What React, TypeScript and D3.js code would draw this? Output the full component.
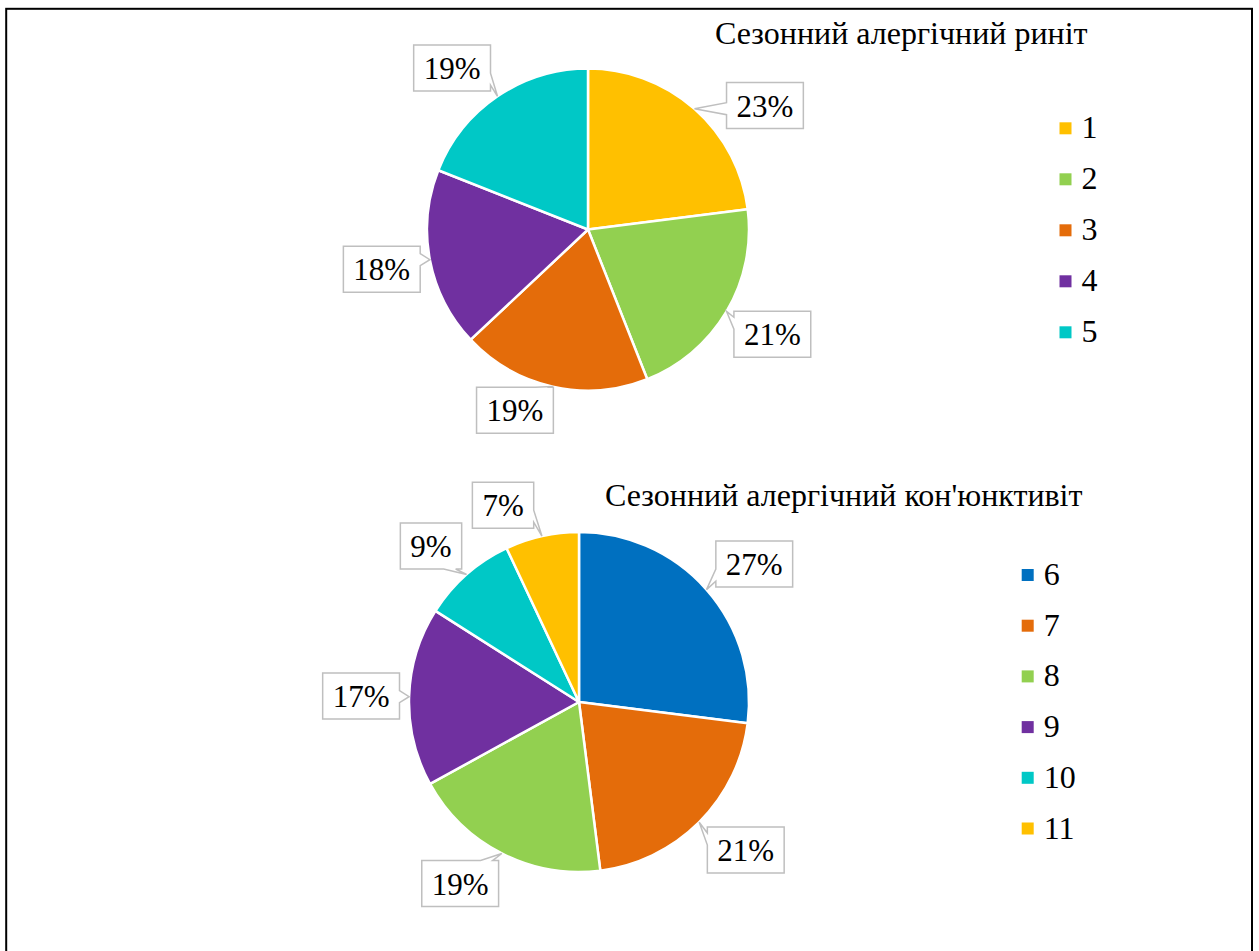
import React from 'react';
import * as d3 from 'd3';

// Series: seasonal allergic rhinitis
const rhinitisTitle = 'Сезонний алергічний риніт';
const rhinitisCategories = ['1', '2', '3', '4', '5'];
const rhinitisValues = [23, 21, 19, 18, 19];

// Series: seasonal allergic conjunctivitis
const conjTitle = "Сезонний алергічний кон'юнктивіт";
const conjCategories = ['6', '7', '8', '9', '10', '11'];
const conjValues = [27, 21, 19, 17, 9, 7];

// Styling
const rhinitisColors = ['#FFC000', '#92D050', '#E46C0A', '#7030A0', '#00C8C6'];
const conjColors = ['#0070C0', '#E46C0A', '#92D050', '#7030A0', '#00C8C6', '#FFC000'];

// Callout placement: angular shift (deg) from slice middle and distance from centre
const rhinitisLabelShift = [13.6, -1, 9.4, -0.1, -5.9];
const rhinitisLabelDist = [216, 212, 195, 210, 211];
const conjLabelShift = [3.2, -3.4, 6.2, -0.2, -2.1, -8.5];
const conjLabelDist = [223, 223, 217, 218, 215, 211];

const FONT = 'Liberation Serif, Times New Roman, serif';
const TITLE_FS = 32;
const LABEL_FS = 31;
const LEGEND_FS = 32;

function textWidth(s: string, fs: number) {
  let w = 0;
  for (const ch of s) w += ch === '%' ? 0.833 * fs : 0.5 * fs;
  return w;
}

function calloutPath(x0: number, y0: number, x1: number, y1: number, tx: number, ty: number) {
  const ox = tx < x0 ? x0 - tx : tx > x1 ? tx - x1 : 0;
  const oy = ty < y0 ? y0 - ty : ty > y1 ? ty - y1 : 0;
  const half = 6;
  const clamp = (v: number, a: number, b: number) => Math.max(a, Math.min(b, v));
  let side = 'none';
  let c = 0;
  if (ox > 0 || oy > 0) {
    if (ox >= oy) {
      side = tx < x0 ? 'left' : 'right';
      c = clamp(ty, y0 + 12, y1 - 12);
    } else {
      side = ty < y0 ? 'top' : 'bottom';
      c = clamp(tx, x0 + 12, x1 - 12);
    }
  }
  const p = d3.path();
  p.moveTo(x0, y0);
  if (side === 'top') {
    p.lineTo(c - half, y0);
    p.lineTo(tx, ty);
    p.lineTo(c + half, y0);
  }
  p.lineTo(x1, y0);
  if (side === 'right') {
    p.lineTo(x1, c - half);
    p.lineTo(tx, ty);
    p.lineTo(x1, c + half);
  }
  p.lineTo(x1, y1);
  if (side === 'bottom') {
    p.lineTo(c + half, y1);
    p.lineTo(tx, ty);
    p.lineTo(c - half, y1);
  }
  p.lineTo(x0, y1);
  if (side === 'left') {
    p.lineTo(x0, c + half);
    p.lineTo(tx, ty);
    p.lineTo(x0, c - half);
  }
  p.closePath();
  return p.toString();
}

type PieProps = {
  cx: number;
  cy: number;
  r: number;
  categories: string[];
  values: number[];
  colors: string[];
  labelShift: number[];
  labelDist: number[];
  title: string;
  titleX: number;
  titleY: number;
  legendX: number;
  legendY: number;
  legendStep: number;
};

function PieChart(props: PieProps) {
  const { cx, cy, r, categories, values, colors, labelShift, labelDist } = props;
  const total = d3.sum(values);
  const arcs = d3.pie<number>().sort(null).value((d) => d)(values);
  const arcGen = d3.arc<d3.PieArcDatum<number>>().innerRadius(0).outerRadius(r);
  const color = d3.scaleOrdinal<string, string>().domain(categories).range(colors);

  return (
    <g>
      <text x={props.titleX} y={props.titleY} style={{ fontFamily: FONT, fontSize: TITLE_FS }} fill="#000">
        {props.title}
      </text>
      <g transform={`translate(${cx},${cy})`}>
        {arcs.map((a, i) => (
          <path
            key={i}
            d={arcGen(a) || ''}
            fill={color(categories[i])}
            stroke="#fff"
            strokeWidth={2.5}
            strokeLinejoin="round"
          />
        ))}
      </g>
      {arcs.map((a, i) => {
        const mid = (a.startAngle + a.endAngle) / 2;
        const tx = cx + r * Math.sin(mid);
        const ty = cy - r * Math.cos(mid);
        const la = mid + (labelShift[i] * Math.PI) / 180;
        const bx = cx + labelDist[i] * Math.sin(la);
        const by = cy - labelDist[i] * Math.cos(la);
        const label = `${Math.round((values[i] / total) * 100)}%`;
        const w = textWidth(label, LABEL_FS) + 20;
        const h = 46;
        const x0 = bx - w / 2;
        const y0 = by - h / 2;
        return (
          <g key={i}>
            <path
              d={calloutPath(x0, y0, x0 + w, y0 + h, tx, ty)}
              fill="#fff"
              stroke="#BFBFBF"
              strokeWidth={1.5}
            />
            <text
              x={bx}
              y={by + 11}
              textAnchor="middle"
              style={{ fontFamily: FONT, fontSize: LABEL_FS }}
              fill="#000"
            >
              {label}
            </text>
          </g>
        );
      })}
      {categories.map((c, i) => {
        const y = props.legendY + i * props.legendStep;
        return (
          <g key={c}>
            <rect x={props.legendX} y={y - 6} width={12} height={12} fill={color(c)} />
            <text
              x={props.legendX + 22}
              y={y + 10}
              style={{ fontFamily: FONT, fontSize: LEGEND_FS }}
              fill="#000"
            >
              {c}
            </text>
          </g>
        );
      })}
    </g>
  );
}

export default function App() {
  return (
    <svg
      width={1259}
      height={951}
      style={{ position: 'absolute', left: 0, top: 0, background: '#fff' }}
    >
      <rect x={0} y={0} width={1259} height={951} fill="#fff" />
      <rect x={6.2} y={8.8} width={1245.8} height={980} fill="none" stroke="#000" strokeWidth={2} />
      <PieChart
        cx={588}
        cy={229.5}
        r={161}
        categories={rhinitisCategories}
        values={rhinitisValues}
        colors={rhinitisColors}
        labelShift={rhinitisLabelShift}
        labelDist={rhinitisLabelDist}
        title={rhinitisTitle}
        titleX={715}
        titleY={43.5}
        legendX={1059.5}
        legendY={128.3}
        legendStep={51}
      />
      <PieChart
        cx={579}
        cy={702}
        r={170}
        categories={conjCategories}
        values={conjValues}
        colors={conjColors}
        labelShift={conjLabelShift}
        labelDist={conjLabelDist}
        title={conjTitle}
        titleX={605}
        titleY={506}
        legendX={1021.7}
        legendY={575}
        legendStep={50.7}
      />
    </svg>
  );
}
